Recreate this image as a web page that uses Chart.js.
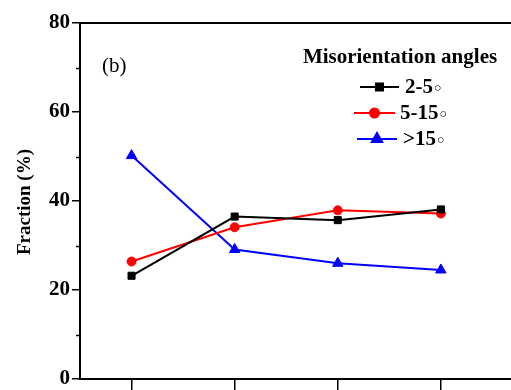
<!DOCTYPE html>
<html><head><meta charset="utf-8">
<script src="https://cdn.jsdelivr.net/npm/chart.js@4/dist/chart.umd.min.js"></script>
<style>html,body{margin:0;padding:0;background:#fff;overflow:hidden}</style>
</head><body><canvas id="c" width="511" height="390" style="display:block;width:511px;height:390px"></canvas>
<script>
const categories = [1, 2, 3, 4];
const series2to5 = [23.2, 36.5, 35.7, 38.1];
const series5to15 = [26.4, 34.1, 37.9, 37.2];
const seriesOver15 = [50.2, 29.1, 26.0, 24.5];
const yTicks = [0, 20, 40, 60, 80];
const yMinorTicks = [10, 30, 50, 70];
const seriesNames = ['2-5', '5-15', '>15'];
const legendTitle = 'Misorientation angles';
const yTitle = 'Fraction (%)';
const panelLabel = '(b)';

const SERIF = "'Liberation Serif', 'Times New Roman', serif";

function pts(vals) { return categories.map((x, i) => ({x: x, y: vals[i]})); }

const styles = [
  {color: '#000000', pointStyle: 'rect', r: 5},
  {color: '#ff0000', pointStyle: 'circle', r: 4.5},
  {color: '#0000ff', pointStyle: 'triangle', r: 6}
];
const allSeries = [series2to5, series5to15, seriesOver15];

const datasets = allSeries.map((s, i) => ({
  label: seriesNames[i],
  data: pts(s),
  borderColor: styles[i].color,
  backgroundColor: styles[i].color,
  pointBackgroundColor: styles[i].color,
  pointBorderColor: styles[i].color,
  pointStyle: styles[i].pointStyle,
  pointRadius: styles[i].r,
  pointBorderWidth: 1,
  borderWidth: 2,
  tension: 0,
  fill: false
}));

const decorPlugin = {
  id: 'decor',
  afterDraw(chart) {
    const ctx = chart.ctx;
    const ys = chart.scales.y;
    const ca = chart.chartArea;
    ctx.save();
    ctx.strokeStyle = '#000';
    ctx.lineWidth = 1.5;
    yMinorTicks.forEach(v => {
      const py = Math.round(ys.getPixelForValue(v)) + 0.5;
      ctx.beginPath(); ctx.moveTo(ca.left - 4, py); ctx.lineTo(ca.left, py); ctx.stroke();
    });
    ctx.lineWidth = 2;
    ctx.beginPath(); ctx.moveTo(ca.left, ca.top); ctx.lineTo(ca.right, ca.top); ctx.stroke();
    ctx.fillStyle = '#000';
    ctx.font = 'bold 19px ' + SERIF;
    ctx.textAlign = 'center';
    ctx.textBaseline = 'middle';
    ctx.translate(25, (ca.top + ca.bottom) / 2 + 1);
    ctx.rotate(-Math.PI / 2);
    ctx.fillText(yTitle, 0, 0);
    ctx.restore();

    ctx.save();
    ctx.fillStyle = '#000';
    ctx.font = '21px ' + SERIF;
    ctx.textAlign = 'left';
    ctx.textBaseline = 'middle';
    ctx.fillText(panelLabel, 102, 66);
    ctx.font = 'bold 21px ' + SERIF;
    ctx.textAlign = 'center';
    ctx.fillText(legendTitle, 400, 58);
    const items = [
      {x1: 360, x2: 399, y: 87, tx: 405},
      {x1: 354, x2: 395, y: 113, tx: 400},
      {x1: 357, x2: 397, y: 139, tx: 403}
    ];
    items.forEach((it, i) => {
      ctx.strokeStyle = styles[i].color;
      ctx.fillStyle = styles[i].color;
      ctx.lineWidth = 2;
      ctx.beginPath(); ctx.moveTo(it.x1, it.y); ctx.lineTo(it.x2, it.y); ctx.stroke();
      Chart.helpers.drawPoint(ctx, {pointStyle: styles[i].pointStyle, radius: styles[i].r, borderWidth: 1, rotation: 0}, (it.x1 + it.x2) / 2, it.y);
      ctx.fill();
      ctx.fillStyle = '#000';
      ctx.font = 'bold 21px ' + SERIF;
      ctx.textAlign = 'left';
      ctx.textBaseline = 'middle';
      ctx.fillText(seriesNames[i], it.tx, it.y + 1);
      const w = ctx.measureText(seriesNames[i]).width;
      ctx.font = '19px "DejaVu Sans"';
      ctx.fillText('\u25E6', it.tx + w - 1, it.y + 3);
    });
    ctx.restore();
  }
};

new Chart(document.getElementById('c'), {
  type: 'line',
  data: {datasets: datasets},
  options: {
    responsive: false,
    animation: false,
    devicePixelRatio: 1,
    layout: {autoPadding: false, padding: {top: 23, right: 0, bottom: 0, left: 0}},
    plugins: {legend: {display: false}, tooltip: {enabled: false}},
    scales: {
      x: {
        type: 'linear',
        min: 0.5,
        max: 4.68,
        afterBuildTicks: s => { s.ticks = categories.map(v => ({value: v})); },
        afterFit: s => { s.height = 11; s.paddingLeft = 0; s.paddingRight = 0; },
        ticks: {display: false},
        grid: {drawOnChartArea: false, drawTicks: true, tickLength: 11, color: '#000', lineWidth: 1.5},
        border: {display: true, color: '#000', width: 2}
      },
      y: {
        min: 0,
        max: 80,
        afterBuildTicks: s => { s.ticks = yTicks.map(v => ({value: v})); },
        afterFit: s => { s.width = 80; s.paddingTop = 0; s.paddingBottom = 0; },
        ticks: {color: '#000', padding: 2, font: {family: SERIF, size: 21, weight: 'bold'}},
        grid: {drawOnChartArea: false, drawTicks: true, tickLength: 8, color: '#000', lineWidth: 1.5},
        border: {display: true, color: '#000', width: 2}
      }
    }
  },
  plugins: [decorPlugin]
});
</script>
</body></html>
